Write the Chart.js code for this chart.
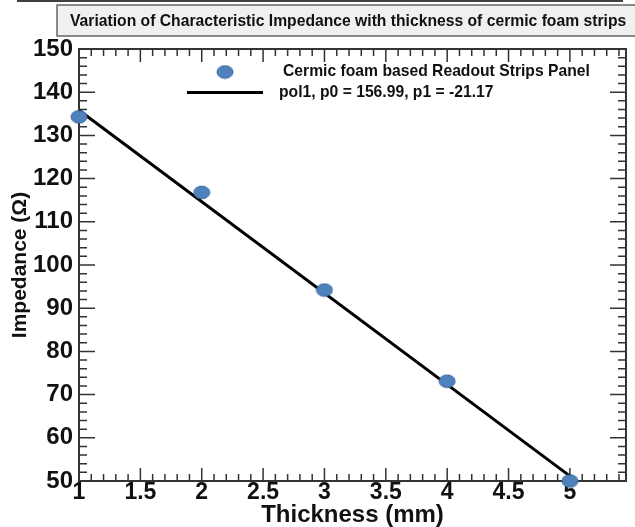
<!DOCTYPE html>
<html>
<head>
<meta charset="utf-8">
<script src="https://cdn.jsdelivr.net/npm/chart.js@4.4.0/dist/chart.umd.min.js"></script>
<style>
html, body { margin: 0; padding: 0; background: #fff; overflow: hidden; }
canvas { display: block; }
</style>
</head>
<body>
<canvas id="myChart" width="635" height="527"></canvas>
<script>
// data block
const thickness = [1, 2, 3, 4, 5]
const impedance = [134.3, 116.8, 94.2, 73.1, 50.0]
const fitP0 = 156.99
const fitP1 = -21.17
const fitRange = [1, 5.05]
const xTicks = [1, 1.5, 2, 2.5, 3, 3.5, 4, 4.5, 5]
const yTicks = [50, 60, 70, 80, 90, 100, 110, 120, 130, 140, 150]
const chartTitle = 'Variation of Characteristic Impedance with thickness of cermic foam strips'
const seriesLabel = 'Cermic foam based Readout Strips Panel'
const fitLabel = 'pol1, p0 = 156.99, p1 = -21.17'

const FONT = '"Liberation Sans", Arial, sans-serif'
Chart.defaults.font.family = FONT
Chart.defaults.color = '#111'

// blue ellipse marker
const marker = document.createElement('canvas')
marker.width = 18
marker.height = 15
const mctx = marker.getContext('2d')
mctx.beginPath()
mctx.ellipse(9, 7.5, 8, 6.3, 0, 0, 2 * Math.PI)
mctx.fillStyle = '#4f81bd'
mctx.fill()
mctx.lineWidth = 1
mctx.strokeStyle = '#3a679c'
mctx.stroke()

// frame, inward ticks, title box and legend (ROOT look)
const rootLook = {
    id: 'rootLook',
    beforeDatasetsDraw(chart) {
        const { ctx, chartArea: a, scales: { x, y } } = chart
        ctx.save()
        ctx.strokeStyle = '#333'
        ctx.lineWidth = 1.5
        ctx.beginPath()
        for (let i = 10; i <= 54; i++) {
            const px = x.getPixelForValue(i / 10)
            const len = i % 5 === 0 ? 13 : 7
            ctx.moveTo(px, a.bottom); ctx.lineTo(px, a.bottom - len)
            ctx.moveTo(px, a.top); ctx.lineTo(px, a.top + len)
        }
        for (let v = 50; v <= 150; v += 2) {
            const py = y.getPixelForValue(v)
            const len = v % 10 === 0 ? 16 : 8
            ctx.moveTo(a.left, py); ctx.lineTo(a.left + len, py)
            ctx.moveTo(a.right, py); ctx.lineTo(a.right - len, py)
        }
        ctx.stroke()
        ctx.lineWidth = 2
        ctx.strokeRect(a.left, a.top, a.right - a.left, a.bottom - a.top)
        ctx.restore()
    },
    afterDraw(chart) {
        const ctx = chart.ctx
        ctx.save()
        // cut off table line at the very top
        ctx.strokeStyle = '#000'
        ctx.lineWidth = 1.5
        ctx.beginPath()
        ctx.moveTo(17, 1); ctx.lineTo(623, 1)
        ctx.stroke()

        // title box
        ctx.fillStyle = '#f0f0f0'
        ctx.fillRect(57, 5, 600, 31)
        ctx.strokeStyle = '#666'
        ctx.lineWidth = 1.5
        ctx.strokeRect(57, 5, 600, 31)
        ctx.fillStyle = '#111'
        ctx.font = 'bold 15.7px ' + FONT
        ctx.textBaseline = 'middle'
        ctx.textAlign = 'left'
        ctx.fillText(chartTitle, 70, 22)

        // legend
        ctx.drawImage(marker, 225 - 9, 72 - 7.5)
        ctx.fillText(seriesLabel, 283, 72)
        ctx.strokeStyle = '#000'
        ctx.lineWidth = 3
        ctx.beginPath()
        ctx.moveTo(187, 92.5); ctx.lineTo(263, 92.5)
        ctx.stroke()
        ctx.fillText(fitLabel, 279, 92.5)
        ctx.restore()
    }
}

// setup block
const data = {
    datasets: [{
        label: seriesLabel,
        data: thickness.map((t, i) => ({ x: t, y: impedance[i] })),
        pointStyle: marker,
        pointRadius: 8,
        showLine: false,
        clip: false
    }, {
        label: fitLabel,
        type: 'line',
        data: fitRange.map(t => ({ x: t, y: fitP0 + fitP1 * t })),
        borderColor: '#000',
        borderWidth: 3,
        pointRadius: 0,
        fill: false,
        clip: false
    }]
}

// config block
const config = {
    type: 'scatter',
    data,
    plugins: [rootLook],
    options: {
        responsive: false,
        animation: false,
        devicePixelRatio: 1,
        layout: { padding: { left: 0, right: 6, top: 49, bottom: 0 } },
        scales: {
            x: {
                type: 'linear',
                min: 1,
                max: 5.457,
                afterBuildTicks: s => { s.ticks = xTicks.map(v => ({ value: v })) },
                afterFit: s => { s.height = 46 },
                grid: { display: false, drawTicks: false },
                border: { display: false },
                ticks: {
                    padding: 0,
                    font: { size: 23, weight: 'bold', lineHeight: 1 },
                    color: '#111',
                    maxRotation: 0,
                    callback: v => String(v)
                },
                title: {
                    display: true,
                    text: 'Thickness (mm)',
                    font: { size: 24, weight: 'bold', lineHeight: 1 },
                    color: '#111',
                    padding: { top: 0, bottom: 0 }
                }
            },
            y: {
                type: 'linear',
                min: 50,
                max: 150,
                afterBuildTicks: s => { s.ticks = yTicks.map(v => ({ value: v })) },
                afterFit: s => { s.width = 79 },
                grid: { display: false, drawTicks: false },
                border: { display: false },
                ticks: {
                    padding: 6,
                    font: { size: 24, weight: 'bold' },
                    color: '#111',
                    callback: v => String(v)
                },
                title: {
                    display: true,
                    text: 'Impedance (Ω)',
                    font: { size: 21, weight: 'bold' },
                    color: '#111',
                    padding: { top: 8, bottom: 0 }
                }
            }
        },
        plugins: {
            legend: { display: false },
            tooltip: { enabled: false }
        }
    }
}

// render block
const myChart = new Chart(
    document.getElementById('myChart'),
    config
)
</script>
</body>
</html>
